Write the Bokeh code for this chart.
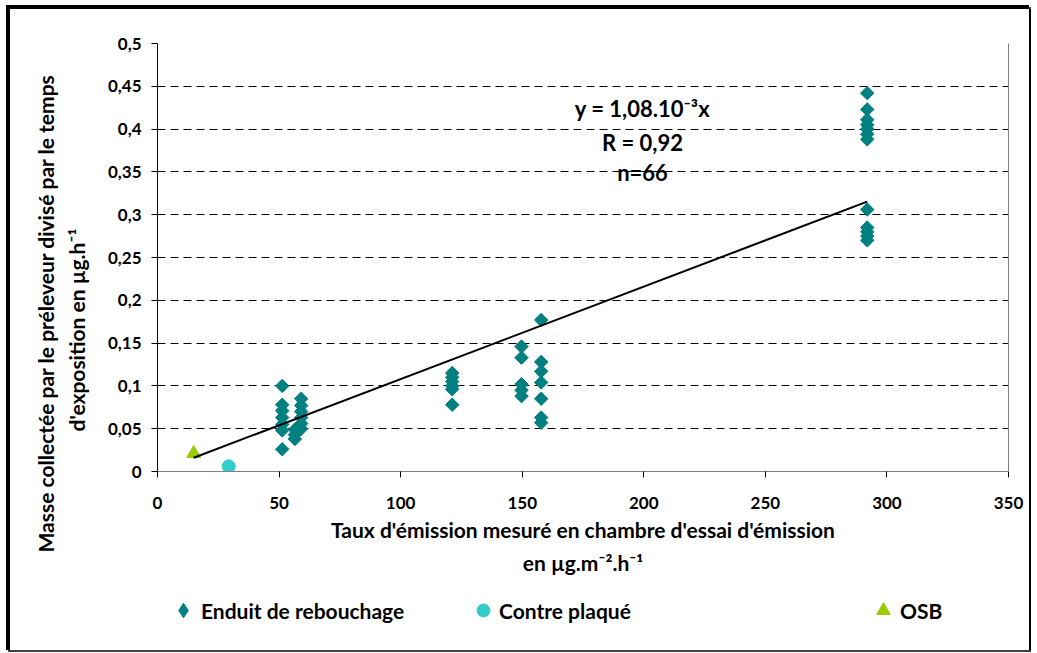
import numpy as np
from bokeh.plotting import figure
from bokeh.layouts import column
from bokeh.models import (Range1d, FixedTicker, LinearAxis, Label, Legend,
                          LegendItem, Title)
from bokeh.embed import file_html
from bokeh.resources import INLINE

# --- measured values -------------------------------------------------------
# Enduit de rebouchage: emission rate (µg.m-2.h-1) vs collected mass rate (µg.h-1)
enduit_x = [51.3, 51.3, 51.3, 51.3, 51.3, 51.3, 51.3,
            59.1, 59.1, 59.1, 59.1, 59.1, 59.1,
            56.5, 56.5, 56.5,
            121.2, 121.2, 121.2, 121.2, 121.2, 121.2,
            149.7, 149.7, 149.7, 149.7, 149.7,
            157.8, 157.8, 157.8, 157.8, 157.8, 157.8, 157.8,
            291.9, 291.9, 291.9, 291.9, 291.9, 291.9, 291.9,
            291.9, 291.9, 291.9, 291.9, 291.9]
enduit_y = [0.100, 0.078, 0.071, 0.063, 0.055, 0.048, 0.026,
            0.085, 0.077, 0.070, 0.063, 0.056, 0.050,
            0.049, 0.043, 0.038,
            0.115, 0.110, 0.105, 0.100, 0.096, 0.078,
            0.146, 0.133, 0.102, 0.095, 0.088,
            0.177, 0.128, 0.117, 0.104, 0.085, 0.063, 0.057,
            0.442, 0.423, 0.411, 0.405, 0.400, 0.394, 0.388,
            0.306, 0.285, 0.280, 0.275, 0.270]
contre_x = [29.3]
contre_y = [0.006]
osb_x = [14.9]
osb_y = [0.021]

slope = 1.08e-3
r_text = "0,92"
n_points = 66

x_ticks = [0, 50, 100, 150, 200, 250, 300, 350]
x_tick_labels = ["0", "50", "100", "150", "200", "250", "300", "350"]
y_ticks = [0, 0.05, 0.1, 0.15, 0.2, 0.25, 0.3, 0.35, 0.4, 0.45, 0.5]
y_tick_labels = ["0", "0,05", "0,1", "0,15", "0,2", "0,25", "0,3", "0,35",
                 "0,4", "0,45", "0,5"]

series_names = ["Enduit de rebouchage", "Contre plaqué", "OSB"]
series_colors = ["#008080", "#33CCCC", "#99CC00"]
x_title = ["Taux d'émission mesuré en chambre d'essai d'émission",
           "en µg.m⁻².h⁻¹"]
y_title = ["Masse collectée par le préleveur divisé par le temps",
           "d'exposition en µg.h⁻¹"]

# --- layout geometry (page pixels) -----------------------------------------
OX, OY = 10, 9                 # top-left of the chart content
W = 1019
H_MAIN, H_LEG = 591, 50
FL, FT, FW, FH = 157, 43, 851, 428
XMAX, YMAX = 350, 0.5
FONT = "Lato"


def dx(px):
    return (px - FL) * XMAX / FW


def dy(py):
    return (FT + FH - py) * YMAX / FH


p = figure(width=W, height=H_MAIN, x_range=Range1d(0, XMAX),
           y_range=Range1d(0, YMAX), output_backend="svg", toolbar_location=None,
           min_border_left=FL - OX, min_border_top=FT - OY,
           min_border_right=W - (FL - OX) - FW,
           min_border_bottom=H_MAIN - (FT - OY) - FH)
p.outline_line_color = None
p.background_fill_color = "white"
p.border_fill_color = "white"

p.xgrid.visible = False
p.ygrid.ticker = FixedTicker(ticks=y_ticks)
p.ygrid.grid_line_color = "black"
p.ygrid.grid_line_dash = "8 5"
p.ygrid.grid_line_width = 1

for ax in (p.xaxis[0], p.yaxis[0]):
    ax.major_label_text_font = FONT
    ax.major_label_text_font_style = "bold"
    ax.major_label_text_font_size = "17px"
    ax.major_label_text_color = "black"
    ax.minor_tick_line_color = None
    ax.major_tick_in = 0
    ax.major_tick_out = 6
    ax.major_tick_line_color = "black"

p.xaxis.ticker = FixedTicker(ticks=x_ticks)
p.xaxis.major_label_overrides = dict(zip(x_ticks, x_tick_labels))
p.xaxis.axis_line_color = "#808080"
p.xaxis.major_label_standoff = 19

p.yaxis.ticker = FixedTicker(ticks=y_ticks)
p.yaxis.major_label_overrides = dict(zip(y_ticks, y_tick_labels))
p.yaxis.axis_line_color = "black"
p.yaxis.major_label_standoff = 10
# invisible axis label: only widens the axis panel before the title lines
p.yaxis.axis_label = "\u200b"
p.yaxis.axis_label_text_font_size = "1px"
p.yaxis.axis_label_standoff = 10

# thin grey right edge of the plot area
right_edge = LinearAxis(ticker=FixedTicker(ticks=[]), axis_line_color="#808080",
                        major_label_text_font_size="0px", major_tick_line_color=None,
                        minor_tick_line_color=None)
p.add_layout(right_edge, "right")

# --- series ---------------------------------------------------------------
r_end = p.scatter(enduit_x, enduit_y, marker="square", angle=np.pi / 4, size=9.5,
                  fill_color=series_colors[0], line_color=series_colors[0])
r_cp = p.scatter(contre_x, contre_y, marker="circle", size=13,
                 fill_color=series_colors[1], line_color=series_colors[1])
r_osb = p.scatter(osb_x, osb_y, marker="triangle", size=14,
                  fill_color=series_colors[2], line_color=series_colors[2])

# regression through the origin, drawn over the measured range
all_x = enduit_x + contre_x + osb_x
tx = np.array([min(all_x), max(all_x)])
p.line(tx, slope * tx, line_color="black", line_width=2)

# --- equation block ---------------------------------------------------------
mant = f"{slope * 1e3:.2f}".replace(".", ",")
eq_lines = [f"y = {mant}.10⁻³x", f"R = {r_text}", f"n={n_points}"]
for txt, py in zip(eq_lines, [108, 142, 172]):
    p.add_layout(Label(x=dx(642), y=dy(py), text=txt, text_align="center",
                       text_baseline="middle", text_font=FONT,
                       text_font_style="bold", text_font_size="22px",
                       text_color="black"))

# --- axis titles (stacked side panels) --------------------------------------
for txt, so in zip(x_title, [6, 7]):
    p.add_layout(Title(text=txt, align="center", text_font=FONT,
                       text_font_style="bold", text_font_size="21px",
                       text_color="black", standoff=so), "below")
# y title: inner line first, then outer line; offsets place them along the axis
for txt, off, so in zip(reversed(y_title), [40, -81], [0, 7]):
    p.add_layout(Title(text=txt, align="left", vertical_align="top", offset=off,
                       text_font=FONT, text_font_style="bold",
                       text_font_size="21px", text_color="black", standoff=so),
                 "left")

# --- legend strip under the chart (frame aligned with the chart's frame) ----
lf = figure(width=W, height=H_LEG, x_range=Range1d(0, 1), y_range=Range1d(0, 1),
            output_backend="svg", toolbar_location=None, min_border=0,
            x_axis_type=None, y_axis_type=None)
lf.outline_line_color = None
lf.grid.visible = False
# swatch renderers: one undrawn NaN point each, only used for the legend glyphs
swatches = [
    lf.scatter(x=[np.nan], y=[np.nan], marker="diamond",
               fill_color=series_colors[0], line_color=series_colors[0]),
    lf.scatter(x=[np.nan], y=[np.nan], marker="circle",
               fill_color=series_colors[1], line_color=series_colors[1]),
    lf.scatter(x=[np.nan], y=[np.nan], marker="triangle",
               fill_color=series_colors[2], line_color=series_colors[2]),
]
LEG_ROW_MID = 610
LEG_LABEL_H = 24
# legend markers are drawn at 0.4 x the glyph box, so the box sets the marker size
for name, rend, cx, box, gap in zip(series_names, swatches, [183, 483, 883],
                                    [36, 32, 34], [-5, -3, -5]):
    bottom = LEG_ROW_MID + max(box, LEG_LABEL_H) / 2
    leg = Legend(items=[LegendItem(label=name, renderers=[rend])],
                 location=(cx - box / 2 - FL, (OY + H_MAIN + H_LEG) - bottom),
                 orientation="horizontal",
                 border_line_color=None, background_fill_alpha=0,
                 padding=0, margin=0, glyph_width=box, glyph_height=box,
                 label_height=LEG_LABEL_H, label_standoff=gap,
                 label_text_font=FONT, label_text_font_style="bold",
                 label_text_font_size="21px", label_text_color="black")
    lf.add_layout(leg, "center")

chart = column(p, lf, spacing=0)
chart.margin = (OY, 0, 0, OX)
# chart border: heavy black on top/left, black right edge, grey bottom edge
chart.styles = {"box-shadow": "-2px -2px 0 2px #000000, 2px 0 0 0 #000000, "
                              "0 0 0 2px #404040"}

open("out.html", "w").write(file_html(chart, INLINE))
